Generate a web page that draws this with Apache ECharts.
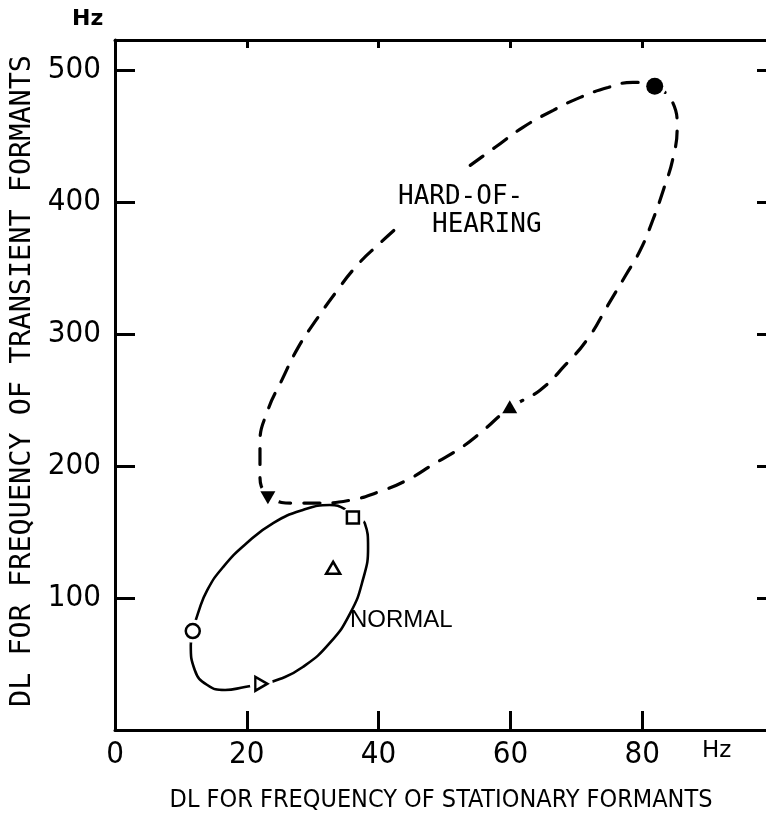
<!DOCTYPE html>
<html><head><meta charset="utf-8">
<script src="https://cdn.jsdelivr.net/npm/echarts@6.0.0/dist/echarts.min.js"></script>
<style>html,body{margin:0;padding:0;background:#fff}#c{width:766px;height:817px}</style>
</head><body><div id="c"></div>
<script>
// ---- data ----
const xTickLabels = ['0', '20', '40', '60', '80'];
const yTickLabels = ['100', '200', '300', '400', '500'];

// marker positions [DL stationary (Hz), DL transient (Hz)]
const hohFilledCircle = [[81.9, 488]];
const hohFilledTriangleUp = [[59.9, 245]];
const hohFilledTriangleDown = [[23.2, 176]];
const normalOpenSquare = [[36.1, 161]];
const normalOpenTriangleUp = [[33.1, 123]];
const normalOpenCircle = [[11.8, 75]];
const normalOpenTriangleRight = [[22.2, 35]];

// hard-of-hearing dashed contour (traced)
const hohContourX = [53.9, 57.7, 61.9, 66.5, 70.6, 74.8, 78.6, 81.9, 84.5, 85.3, 84.7, 83.3, 81.6, 79.7, 77.5, 74.8, 71.8, 68.3, 64.5, 59.9, 55.4, 52.4, 48.6, 44.3, 39.9, 35.7, 30.7, 26.9, 23.5, 22.0, 22.0, 23.2, 25.3, 27.8, 30.5, 33.4, 36.7, 40.2, 43.7];
const hohContourY = [428, 441.7, 456.8, 469.7, 479.5, 487, 490.9, 487, 477, 456.8, 434, 410.6, 386.4, 363.6, 344.7, 322, 297, 276.5, 257.6, 244, 225, 213.6, 202.3, 189.4, 180.3, 174.2, 172, 172, 177, 191.7, 217.4, 242.4, 265, 290, 310.6, 331, 352, 369, 384.8];

// normal solid contour (traced)
const normalContourX = [11.8, 12.6, 14.0, 16.4, 20.0, 24.0, 28.5, 32.6, 34.9, 36.1, 37.9, 38.4, 37.6, 35.7, 32.6, 28.5, 25.0, 22.2, 19.7, 16.7, 14.0, 12.1, 11.5, 11.8];
const normalContourY = [75, 88.6, 106, 123.5, 141.7, 156.8, 166.7, 170.5, 167.4, 161, 156.8, 138.6, 113.6, 88.6, 66, 47.7, 38.6, 34.8, 32.6, 30.3, 34.1, 45.5, 64.4, 75];

const zip = (xs, ys) => xs.map((x, i) => [x, ys[i]]);

const chart = echarts.init(document.getElementById('c'), null, {renderer: 'canvas'});
const tickFont = "'Liberation Sans Narrow', 'DejaVu Sans Condensed', sans-serif";
const monoFont = "'DejaVu Sans Mono', monospace";
const ink = '#000';

const baseX = {
  type: 'value', min: 0, max: 100, interval: 20,
  splitLine: {show: false},
  axisLine: {show: true, onZero: false, lineStyle: {color: ink, width: 3}},
  axisTick: {show: true, inside: true, length: 19, lineStyle: {color: ink, width: 3}}
};
const baseY = {
  type: 'value', min: 0, max: 523, interval: 100,
  splitLine: {show: false},
  axisLine: {show: true, onZero: false, lineStyle: {color: ink, width: 3}},
  axisTick: {show: true, inside: true, length: 20, lineStyle: {color: ink, width: 3}}
};

const markerCommon = {type: 'scatter', z: 5, silent: true, emphasis: {disabled: true}};
const gapData = [].concat(hohFilledCircle, hohFilledTriangleUp, hohFilledTriangleDown,
  normalOpenSquare, normalOpenTriangleUp, normalOpenCircle, normalOpenTriangleRight);

chart.setOption({
  animation: false,
  backgroundColor: '#fff',
  grid: {left: 115, width: 659, top: 40, bottom: 87, containLabel: false, outerBoundsMode: 'none'},
  xAxis: [
    Object.assign({}, baseX, {
      position: 'bottom',
      axisLabel: {
        show: true, margin: 9, color: ink, fontSize: 31, fontFamily: tickFont,
        formatter: v => { const i = [0,20,40,60,80].indexOf(v); return i >= 0 ? xTickLabels[i] : ''; }
      }
    }),
    Object.assign({}, baseX, {position: 'top', axisLabel: {show: false},
      axisTick: {show: true, inside: true, length: 8, lineStyle: {color: ink, width: 3}}})
  ],
  yAxis: [
    Object.assign({}, baseY, {
      position: 'left',
      axisLabel: {
        show: true, margin: 14, color: ink, fontSize: 31, fontFamily: tickFont,
        formatter: v => { const i = [100,200,300,400,500].indexOf(v); return i >= 0 ? yTickLabels[i] : ''; }
      }
    }),
    Object.assign({}, baseY, {position: 'right', axisLabel: {show: false},
      axisTick: {show: true, inside: true, length: 17, lineStyle: {color: ink, width: 3}}})
  ],
  series: [
    {
      name: 'HARD-OF-HEARING contour', type: 'line', smooth: 0.5, symbol: 'none', z: 2, silent: true,
      data: zip(hohContourX, hohContourY),
      lineStyle: {color: ink, width: 3.2, type: [16, 13], cap: 'round', opacity: 1}
    },
    {
      name: 'NORMAL contour', type: 'line', smooth: 0.5, symbol: 'none', z: 2, silent: true,
      data: zip(normalContourX, normalContourY),
      lineStyle: {color: ink, width: 2.6, type: 'solid', opacity: 1}
    },
    {
      name: 'gaps', type: 'scatter', z: 3, silent: true, symbol: 'circle', symbolSize: 23,
      data: gapData, itemStyle: {color: '#fff', borderWidth: 0, opacity: 1}
    },
    Object.assign({}, markerCommon, {name: 'hoh circle', symbol: 'circle', symbolSize: 17,
      data: hohFilledCircle, itemStyle: {color: ink, opacity: 1}}),
    Object.assign({}, markerCommon, {name: 'hoh triangle', symbol: 'triangle', symbolSize: [15, 13],
      data: hohFilledTriangleUp, itemStyle: {color: ink, opacity: 1}}),
    Object.assign({}, markerCommon, {name: 'hoh triangle down', symbol: 'triangle', symbolSize: [15, 13], symbolRotate: 180,
      data: hohFilledTriangleDown, itemStyle: {color: ink, opacity: 1}}),
    Object.assign({}, markerCommon, {name: 'normal square', symbol: 'rect', symbolSize: 12,
      data: normalOpenSquare, itemStyle: {color: '#fff', borderColor: ink, borderWidth: 2.5, opacity: 1}}),
    Object.assign({}, markerCommon, {name: 'normal triangle', symbol: 'triangle', symbolSize: [14, 12],
      data: normalOpenTriangleUp, itemStyle: {color: '#fff', borderColor: ink, borderWidth: 2.5, opacity: 1}}),
    Object.assign({}, markerCommon, {name: 'normal circle', symbol: 'circle', symbolSize: 14,
      data: normalOpenCircle, itemStyle: {color: '#fff', borderColor: ink, borderWidth: 2.5, opacity: 1}}),
    Object.assign({}, markerCommon, {name: 'normal triangle right', symbol: 'triangle', symbolSize: [14, 12], symbolRotate: -90,
      data: normalOpenTriangleRight, itemStyle: {color: '#fff', borderColor: ink, borderWidth: 2.5, opacity: 1}})
  ],
  graphic: [
    {type: 'text', left: 72, top: 8, style: {text: 'Hz', fill: ink, font: "bold 22px 'DejaVu Sans', sans-serif"}},
    {type: 'text', left: 702, top: 740, style: {text: 'Hz', fill: ink, font: "23px 'DejaVu Sans', sans-serif"}},
    {type: 'text', x: 441, y: 800, style: {text: 'DL FOR FREQUENCY OF STATIONARY FORMANTS', fill: ink,
      font: "25px " + tickFont, textAlign: 'center', textVerticalAlign: 'middle'}},
    {type: 'text', x: 23, y: 381, rotation: Math.PI / 2, style: {text: 'DL FOR FREQUENCY OF TRANSIENT FORMANTS', fill: ink,
      font: "28.5px " + monoFont, textAlign: 'center', textVerticalAlign: 'middle'}},
    {type: 'text', x: 398, y: 197, style: {text: 'HARD-OF-', fill: ink, font: "26px " + monoFont, textAlign: 'left', textVerticalAlign: 'middle'}},
    {type: 'text', x: 432, y: 225, style: {text: 'HEARING', fill: ink, font: "26px " + monoFont, textAlign: 'left', textVerticalAlign: 'middle'}},
    {type: 'text', x: 350, y: 620, style: {text: 'NORMAL', fill: ink, font: "24px 'Liberation Sans', sans-serif", textAlign: 'left', textVerticalAlign: 'middle'}}
  ]
});
</script>
</body></html>
